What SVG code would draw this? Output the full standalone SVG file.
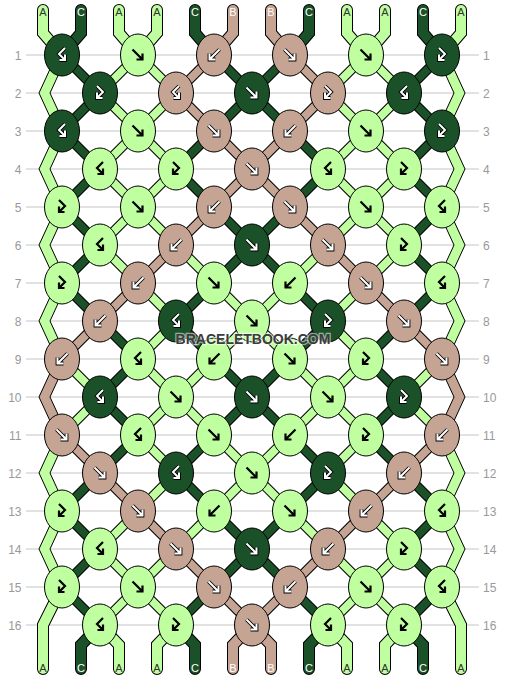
<svg xmlns="http://www.w3.org/2000/svg" xmlns:xlink="http://www.w3.org/1999/xlink" width="506" height="680" viewBox="0 0 506 680">
<style>
.grid{stroke:#c4c4c4;stroke-width:1}
.lbl{font-family:"Liberation Sans",Arial,sans-serif;font-size:12px;fill:#999}
.ll{text-anchor:end}
.ol{fill:none;stroke:#000;stroke-width:10}
.ost{fill:none;stroke:#000;stroke-width:12;stroke-linecap:round}
.fa{fill:none;stroke:#bfffa0;stroke-width:8}
.fb{fill:none;stroke:#c5a494;stroke-width:8}
.fc{fill:none;stroke:#1b5128;stroke-width:8}
.sa{fill:none;stroke:#bfffa0;stroke-width:10;stroke-linecap:round}
.sb{fill:none;stroke:#c5a494;stroke-width:10;stroke-linecap:round}
.sc{fill:none;stroke:#1b5128;stroke-width:10;stroke-linecap:round}
.ea{fill:#bfffa0;stroke:#000;stroke-width:1}
.eb{fill:#c5a494;stroke:#000;stroke-width:1}
ellipse{stroke:#000;stroke-width:1}
.ka{fill:#bfffa0}
.kb{fill:#c5a494}
.kc{fill:#1b5128}
.ab{fill:none;stroke:#000;stroke-width:2.2}
.ao{fill:none;stroke:#000;stroke-width:3.8}
.aw{fill:none;stroke:#fff;stroke-width:2}
.tl{font-family:"Liberation Sans",Arial,sans-serif;font-size:11px;text-anchor:middle}
.td{fill:#333}
.tw{fill:#fff}
.wm{font-family:"Liberation Sans",Arial,sans-serif;font-weight:bold;font-size:14px;text-anchor:middle;fill:#3c3c3c;stroke:#fff;stroke-width:2.4;stroke-opacity:.55;paint-order:stroke}
</style>
<defs>
<path id="pF" d="M-5.5 -5.5L4.5 4.5M4.5 -1.5V4.5H-1.5"/>
<path id="pB" d="M5.5 -5.5L-4.5 4.5M-4.5 -1.5V4.5H1.5"/>
<path id="pFB" d="M-3 -7L3 -1L-3 5M-3 -0.5V5H2.5"/>
<path id="pBF" d="M3 -7L-3 -1L3 5M3 -0.5V5H-2.5"/>
<g id="wF"><use href="#pF" class="ao"/><use href="#pF" class="aw"/></g>
<g id="wB"><use href="#pB" class="ao"/><use href="#pB" class="aw"/></g>
<g id="wFB"><use href="#pFB" class="ao"/><use href="#pFB" class="aw"/></g>
<g id="wBF"><use href="#pBF" class="ao"/><use href="#pBF" class="aw"/></g>
<path id="dC" d="M62 55L100 93M214 55L252 93M290 55L252 93M442 55L404 93M100 93L62 131M252 93L214 131M252 93L290 131M404 93L442 131M62 131L100 169M214 131L176 169M290 131L328 169M442 131L404 169M100 169L62 207M176 169L214 207M328 169L290 207M404 169L442 207M62 207L100 245M214 207L252 245M290 207L252 245M442 207L404 245M100 245L62 283M252 245L214 283M252 245L290 283M404 245L442 283M62 283L100 321M214 283L176 321M290 283L328 321M442 283L404 321M100 321L138 359M176 321L214 359M328 321L290 359M404 321L366 359M138 359L100 397M214 359L252 397M290 359L252 397M366 359L404 397M100 397L138 435M252 397L214 435M252 397L290 435M404 397L366 435M138 435L100 473M214 435L176 473M290 435L328 473M366 435L404 473M100 473L62 511M176 473L214 511M328 473L290 511M404 473L442 511M62 511L100 549M214 511L252 549M290 511L252 549M442 511L404 549M100 549L62 587M252 549L214 587M252 549L290 587M404 549L442 587M62 587L100 625M214 587L176 625M290 587L328 625M442 587L404 625"/>
<path id="dA" d="M138 55L100 93M138 55L176 93M366 55L328 93M366 55L404 93M100 93L138 131M176 93L138 131M328 93L366 131M404 93L366 131M138 131L100 169M138 131L176 169M366 131L328 169M366 131L404 169M100 169L138 207M176 169L138 207M328 169L366 207M404 169L366 207M138 207L100 245M138 207L176 245M366 207L328 245M366 207L404 245M100 245L138 283M176 245L214 283M328 245L290 283M404 245L366 283M138 283L176 321M214 283L252 321M290 283L252 321M366 283L328 321M176 321L138 359M252 321L214 359M252 321L290 359M328 321L366 359M62 359L100 397M138 359L176 397M214 359L176 397M290 359L328 397M366 359L328 397M442 359L404 397M100 397L62 435M176 397L138 435M176 397L214 435M328 397L290 435M328 397L366 435M404 397L442 435M138 435L176 473M214 435L252 473M290 435L252 473M366 435L328 473M176 473L138 511M252 473L214 511M252 473L290 511M328 473L366 511M138 511L100 549M214 511L176 549M290 511L328 549M366 511L404 549M100 549L138 587M176 549L138 587M328 549L366 587M404 549L366 587M138 587L100 625M138 587L176 625M366 587L328 625M366 587L404 625"/>
<path id="dB" d="M214 55L176 93M290 55L328 93M176 93L214 131M328 93L290 131M214 131L252 169M290 131L252 169M252 169L214 207M252 169L290 207M214 207L176 245M290 207L328 245M176 245L138 283M328 245L366 283M138 283L100 321M366 283L404 321M100 321L62 359M404 321L442 359M62 435L100 473M442 435L404 473M100 473L138 511M404 473L366 511M138 511L176 549M366 511L328 549M176 549L214 587M328 549L290 587M214 587L252 625M290 587L252 625"/>
<path id="tA" d="M43 10V33L62 55M119 10V33L138 55M157 10V33L138 55M347 10V33L366 55M385 10V33L366 55M461 10V33L442 55M62 587L43 625V669M100 625L119 645V669M176 625L157 645V669M328 625L347 645V669M404 625L385 645V669M442 587L461 625V669"/>
<path id="tC" d="M81 10V33L62 55M195 10V33L214 55M309 10V33L290 55M423 10V33L442 55M100 625L81 645V669M176 625L195 645V669M328 625L309 645V669M404 625L423 645V669"/>
<path id="tB" d="M233 10V33L214 55M271 10V33L290 55M252 625L233 645V669M252 625L271 645V669"/>
</defs>
<rect width="506" height="680" fill="#fff"/>
<g id="rows">
<g class="grid">
<path d="M26 55H479M26 93H479M26 131H479M26 169H479M26 207H479M26 245H479M26 283H479M26 321H479M26 359H479M26 397H479M26 435H479M26 473H479M26 511H479M26 549H479M26 587H479M26 625H479"/>
</g>
<g class="lbl ll">
<text x="21.5" y="59.5">1</text><text x="21.5" y="97.5">2</text><text x="21.5" y="135.5">3</text><text x="21.5" y="173.5">4</text><text x="21.5" y="211.5">5</text><text x="21.5" y="249.5">6</text><text x="21.5" y="287.5">7</text><text x="21.5" y="325.5">8</text><text x="21.5" y="363.5">9</text><text x="21.5" y="401.5">10</text><text x="21.5" y="439.5">11</text><text x="21.5" y="477.5">12</text><text x="21.5" y="515.5">13</text><text x="21.5" y="553.5">14</text><text x="21.5" y="591.5">15</text><text x="21.5" y="629.5">16</text>
</g>
<g class="lbl">
<text x="483" y="59.5">1</text><text x="483" y="97.5">2</text><text x="483" y="135.5">3</text><text x="483" y="173.5">4</text><text x="483" y="211.5">5</text><text x="483" y="249.5">6</text><text x="483" y="287.5">7</text><text x="483" y="325.5">8</text><text x="483" y="363.5">9</text><text x="483" y="401.5">10</text><text x="483" y="439.5">11</text><text x="483" y="477.5">12</text><text x="483" y="515.5">13</text><text x="483" y="553.5">14</text><text x="483" y="591.5">15</text><text x="483" y="629.5">16</text>
</g>
</g>
<g id="connectors">
<use href="#tA" class="ost"/><use href="#tB" class="ost"/><use href="#tC" class="ost"/>
<use href="#dA" class="ol"/><use href="#dB" class="ol"/><use href="#dC" class="ol"/>
<use href="#tA" class="sa"/><use href="#tB" class="sb"/><use href="#tC" class="sc"/>
<use href="#dA" class="fa"/><use href="#dB" class="fb"/><use href="#dC" class="fc"/>
<polygon class="ea" points="56.5,55 39,93 56.5,131 67.5,131 50,93 67.5,55"/>
<polygon class="ea" points="56.5,131 39,169 56.5,207 67.5,207 50,169 67.5,131"/>
<polygon class="ea" points="56.5,207 39,245 56.5,283 67.5,283 50,245 67.5,207"/>
<polygon class="ea" points="56.5,283 39,321 56.5,359 67.5,359 50,321 67.5,283"/>
<polygon class="eb" points="56.5,359 39,397 56.5,435 67.5,435 50,397 67.5,359"/>
<polygon class="ea" points="56.5,435 39,473 56.5,511 67.5,511 50,473 67.5,435"/>
<polygon class="ea" points="56.5,511 39,549 56.5,587 67.5,587 50,549 67.5,511"/>
<polygon class="ea" points="447.5,55 465,93 447.5,131 436.5,131 454,93 436.5,55"/>
<polygon class="ea" points="447.5,131 465,169 447.5,207 436.5,207 454,169 436.5,131"/>
<polygon class="ea" points="447.5,207 465,245 447.5,283 436.5,283 454,245 436.5,207"/>
<polygon class="ea" points="447.5,283 465,321 447.5,359 436.5,359 454,321 436.5,283"/>
<polygon class="eb" points="447.5,359 465,397 447.5,435 436.5,435 454,397 436.5,359"/>
<polygon class="ea" points="447.5,435 465,473 447.5,511 436.5,511 454,473 436.5,435"/>
<polygon class="ea" points="447.5,511 465,549 447.5,587 436.5,587 454,549 436.5,511"/>
</g>
<g id="strings-labels" class="tl">
<text class="td" x="43" y="16">A</text><text class="tw" x="81" y="16">C</text><text class="td" x="119" y="16">A</text><text class="td" x="157" y="16">A</text><text class="tw" x="195" y="16">C</text><text class="tw" x="233" y="16">B</text><text class="tw" x="271" y="16">B</text><text class="tw" x="309" y="16">C</text><text class="td" x="347" y="16">A</text><text class="td" x="385" y="16">A</text><text class="tw" x="423" y="16">C</text><text class="td" x="461" y="16">A</text>
<text class="td" x="43" y="672">A</text><text class="tw" x="81" y="672">C</text><text class="td" x="119" y="672">A</text><text class="td" x="157" y="672">A</text><text class="tw" x="195" y="672">C</text><text class="tw" x="233" y="672">B</text><text class="tw" x="271" y="672">B</text><text class="tw" x="309" y="672">C</text><text class="td" x="347" y="672">A</text><text class="td" x="385" y="672">A</text><text class="tw" x="423" y="672">C</text><text class="td" x="461" y="672">A</text>
</g>
<g id="knots">
<g id="k1-1"><ellipse class="kc" cx="62" cy="55" rx="17.5" ry="21"/><use href="#wBF" x="62" y="55"/></g>
<g id="k1-2"><ellipse class="ka" cx="138" cy="55" rx="17.5" ry="21"/><use href="#pF" class="ab" x="138" y="55"/></g>
<g id="k1-3"><ellipse class="kb" cx="214" cy="55" rx="17.5" ry="21"/><use href="#wB" x="214" y="55"/></g>
<g id="k1-4"><ellipse class="kb" cx="290" cy="55" rx="17.5" ry="21"/><use href="#wF" x="290" y="55"/></g>
<g id="k1-5"><ellipse class="ka" cx="366" cy="55" rx="17.5" ry="21"/><use href="#pF" class="ab" x="366" y="55"/></g>
<g id="k1-6"><ellipse class="kc" cx="442" cy="55" rx="17.5" ry="21"/><use href="#wFB" x="442" y="55"/></g>

<g id="k2-1"><ellipse class="kc" cx="100" cy="93" rx="17.5" ry="21"/><use href="#wFB" x="100" y="93"/></g>
<g id="k2-2"><ellipse class="kb" cx="176" cy="93" rx="17.5" ry="21"/><use href="#wBF" x="176" y="93"/></g>
<g id="k2-3"><ellipse class="kc" cx="252" cy="93" rx="17.5" ry="21"/><use href="#wF" x="252" y="93"/></g>
<g id="k2-4"><ellipse class="kb" cx="328" cy="93" rx="17.5" ry="21"/><use href="#wFB" x="328" y="93"/></g>
<g id="k2-5"><ellipse class="kc" cx="404" cy="93" rx="17.5" ry="21"/><use href="#wBF" x="404" y="93"/></g>

<g id="k3-1"><ellipse class="kc" cx="62" cy="131" rx="17.5" ry="21"/><use href="#wBF" x="62" y="131"/></g>
<g id="k3-2"><ellipse class="ka" cx="138" cy="131" rx="17.5" ry="21"/><use href="#pF" class="ab" x="138" y="131"/></g>
<g id="k3-3"><ellipse class="kb" cx="214" cy="131" rx="17.5" ry="21"/><use href="#wF" x="214" y="131"/></g>
<g id="k3-4"><ellipse class="kb" cx="290" cy="131" rx="17.5" ry="21"/><use href="#wB" x="290" y="131"/></g>
<g id="k3-5"><ellipse class="ka" cx="366" cy="131" rx="17.5" ry="21"/><use href="#pF" class="ab" x="366" y="131"/></g>
<g id="k3-6"><ellipse class="kc" cx="442" cy="131" rx="17.5" ry="21"/><use href="#wFB" x="442" y="131"/></g>

<g id="k4-1"><ellipse class="ka" cx="100" cy="169" rx="17.5" ry="21"/><use href="#pBF" class="ab" x="100" y="169"/></g>
<g id="k4-2"><ellipse class="ka" cx="176" cy="169" rx="17.5" ry="21"/><use href="#pFB" class="ab" x="176" y="169"/></g>
<g id="k4-3"><ellipse class="kb" cx="252" cy="169" rx="17.5" ry="21"/><use href="#wF" x="252" y="169"/></g>
<g id="k4-4"><ellipse class="ka" cx="328" cy="169" rx="17.5" ry="21"/><use href="#pBF" class="ab" x="328" y="169"/></g>
<g id="k4-5"><ellipse class="ka" cx="404" cy="169" rx="17.5" ry="21"/><use href="#pFB" class="ab" x="404" y="169"/></g>

<g id="k5-1"><ellipse class="ka" cx="62" cy="207" rx="17.5" ry="21"/><use href="#pFB" class="ab" x="62" y="207"/></g>
<g id="k5-2"><ellipse class="ka" cx="138" cy="207" rx="17.5" ry="21"/><use href="#pF" class="ab" x="138" y="207"/></g>
<g id="k5-3"><ellipse class="kb" cx="214" cy="207" rx="17.5" ry="21"/><use href="#wB" x="214" y="207"/></g>
<g id="k5-4"><ellipse class="kb" cx="290" cy="207" rx="17.5" ry="21"/><use href="#wF" x="290" y="207"/></g>
<g id="k5-5"><ellipse class="ka" cx="366" cy="207" rx="17.5" ry="21"/><use href="#pF" class="ab" x="366" y="207"/></g>
<g id="k5-6"><ellipse class="ka" cx="442" cy="207" rx="17.5" ry="21"/><use href="#pBF" class="ab" x="442" y="207"/></g>

<g id="k6-1"><ellipse class="ka" cx="100" cy="245" rx="17.5" ry="21"/><use href="#pBF" class="ab" x="100" y="245"/></g>
<g id="k6-2"><ellipse class="kb" cx="176" cy="245" rx="17.5" ry="21"/><use href="#wB" x="176" y="245"/></g>
<g id="k6-3"><ellipse class="kc" cx="252" cy="245" rx="17.5" ry="21"/><use href="#wF" x="252" y="245"/></g>
<g id="k6-4"><ellipse class="kb" cx="328" cy="245" rx="17.5" ry="21"/><use href="#wF" x="328" y="245"/></g>
<g id="k6-5"><ellipse class="ka" cx="404" cy="245" rx="17.5" ry="21"/><use href="#pFB" class="ab" x="404" y="245"/></g>

<g id="k7-1"><ellipse class="ka" cx="62" cy="283" rx="17.5" ry="21"/><use href="#pFB" class="ab" x="62" y="283"/></g>
<g id="k7-2"><ellipse class="kb" cx="138" cy="283" rx="17.5" ry="21"/><use href="#wB" x="138" y="283"/></g>
<g id="k7-3"><ellipse class="ka" cx="214" cy="283" rx="17.5" ry="21"/><use href="#pF" class="ab" x="214" y="283"/></g>
<g id="k7-4"><ellipse class="ka" cx="290" cy="283" rx="17.5" ry="21"/><use href="#pB" class="ab" x="290" y="283"/></g>
<g id="k7-5"><ellipse class="kb" cx="366" cy="283" rx="17.5" ry="21"/><use href="#wF" x="366" y="283"/></g>
<g id="k7-6"><ellipse class="ka" cx="442" cy="283" rx="17.5" ry="21"/><use href="#pBF" class="ab" x="442" y="283"/></g>

<g id="k8-1"><ellipse class="kb" cx="100" cy="321" rx="17.5" ry="21"/><use href="#wB" x="100" y="321"/></g>
<g id="k8-2"><ellipse class="kc" cx="176" cy="321" rx="17.5" ry="21"/><use href="#wBF" x="176" y="321"/></g>
<g id="k8-3"><ellipse class="ka" cx="252" cy="321" rx="17.5" ry="21"/><use href="#pF" class="ab" x="252" y="321"/></g>
<g id="k8-4"><ellipse class="kc" cx="328" cy="321" rx="17.5" ry="21"/><use href="#wFB" x="328" y="321"/></g>
<g id="k8-5"><ellipse class="kb" cx="404" cy="321" rx="17.5" ry="21"/><use href="#wF" x="404" y="321"/></g>

<g id="k9-1"><ellipse class="kb" cx="62" cy="359" rx="17.5" ry="21"/><use href="#wB" x="62" y="359"/></g>
<g id="k9-2"><ellipse class="ka" cx="138" cy="359" rx="17.5" ry="21"/><use href="#pBF" class="ab" x="138" y="359"/></g>
<g id="k9-3"><ellipse class="ka" cx="214" cy="359" rx="17.5" ry="21"/><use href="#pB" class="ab" x="214" y="359"/></g>
<g id="k9-4"><ellipse class="ka" cx="290" cy="359" rx="17.5" ry="21"/><use href="#pF" class="ab" x="290" y="359"/></g>
<g id="k9-5"><ellipse class="ka" cx="366" cy="359" rx="17.5" ry="21"/><use href="#pFB" class="ab" x="366" y="359"/></g>
<g id="k9-6"><ellipse class="kb" cx="442" cy="359" rx="17.5" ry="21"/><use href="#wF" x="442" y="359"/></g>

<g id="k10-1"><ellipse class="kc" cx="100" cy="397" rx="17.5" ry="21"/><use href="#wBF" x="100" y="397"/></g>
<g id="k10-2"><ellipse class="ka" cx="176" cy="397" rx="17.5" ry="21"/><use href="#pF" class="ab" x="176" y="397"/></g>
<g id="k10-3"><ellipse class="kc" cx="252" cy="397" rx="17.5" ry="21"/><use href="#wF" x="252" y="397"/></g>
<g id="k10-4"><ellipse class="ka" cx="328" cy="397" rx="17.5" ry="21"/><use href="#pF" class="ab" x="328" y="397"/></g>
<g id="k10-5"><ellipse class="kc" cx="404" cy="397" rx="17.5" ry="21"/><use href="#wFB" x="404" y="397"/></g>

<g id="k11-1"><ellipse class="kb" cx="62" cy="435" rx="17.5" ry="21"/><use href="#wF" x="62" y="435"/></g>
<g id="k11-2"><ellipse class="ka" cx="138" cy="435" rx="17.5" ry="21"/><use href="#pBF" class="ab" x="138" y="435"/></g>
<g id="k11-3"><ellipse class="ka" cx="214" cy="435" rx="17.5" ry="21"/><use href="#pF" class="ab" x="214" y="435"/></g>
<g id="k11-4"><ellipse class="ka" cx="290" cy="435" rx="17.5" ry="21"/><use href="#pB" class="ab" x="290" y="435"/></g>
<g id="k11-5"><ellipse class="ka" cx="366" cy="435" rx="17.5" ry="21"/><use href="#pFB" class="ab" x="366" y="435"/></g>
<g id="k11-6"><ellipse class="kb" cx="442" cy="435" rx="17.5" ry="21"/><use href="#wB" x="442" y="435"/></g>

<g id="k12-1"><ellipse class="kb" cx="100" cy="473" rx="17.5" ry="21"/><use href="#wF" x="100" y="473"/></g>
<g id="k12-2"><ellipse class="kc" cx="176" cy="473" rx="17.5" ry="21"/><use href="#wBF" x="176" y="473"/></g>
<g id="k12-3"><ellipse class="ka" cx="252" cy="473" rx="17.5" ry="21"/><use href="#pF" class="ab" x="252" y="473"/></g>
<g id="k12-4"><ellipse class="kc" cx="328" cy="473" rx="17.5" ry="21"/><use href="#wFB" x="328" y="473"/></g>
<g id="k12-5"><ellipse class="kb" cx="404" cy="473" rx="17.5" ry="21"/><use href="#wB" x="404" y="473"/></g>

<g id="k13-1"><ellipse class="ka" cx="62" cy="511" rx="17.5" ry="21"/><use href="#pFB" class="ab" x="62" y="511"/></g>
<g id="k13-2"><ellipse class="kb" cx="138" cy="511" rx="17.5" ry="21"/><use href="#wF" x="138" y="511"/></g>
<g id="k13-3"><ellipse class="ka" cx="214" cy="511" rx="17.5" ry="21"/><use href="#pB" class="ab" x="214" y="511"/></g>
<g id="k13-4"><ellipse class="ka" cx="290" cy="511" rx="17.5" ry="21"/><use href="#pF" class="ab" x="290" y="511"/></g>
<g id="k13-5"><ellipse class="kb" cx="366" cy="511" rx="17.5" ry="21"/><use href="#wB" x="366" y="511"/></g>
<g id="k13-6"><ellipse class="ka" cx="442" cy="511" rx="17.5" ry="21"/><use href="#pBF" class="ab" x="442" y="511"/></g>

<g id="k14-1"><ellipse class="ka" cx="100" cy="549" rx="17.5" ry="21"/><use href="#pBF" class="ab" x="100" y="549"/></g>
<g id="k14-2"><ellipse class="kb" cx="176" cy="549" rx="17.5" ry="21"/><use href="#wF" x="176" y="549"/></g>
<g id="k14-3"><ellipse class="kc" cx="252" cy="549" rx="17.5" ry="21"/><use href="#wF" x="252" y="549"/></g>
<g id="k14-4"><ellipse class="kb" cx="328" cy="549" rx="17.5" ry="21"/><use href="#wB" x="328" y="549"/></g>
<g id="k14-5"><ellipse class="ka" cx="404" cy="549" rx="17.5" ry="21"/><use href="#pFB" class="ab" x="404" y="549"/></g>

<g id="k15-1"><ellipse class="ka" cx="62" cy="587" rx="17.5" ry="21"/><use href="#pFB" class="ab" x="62" y="587"/></g>
<g id="k15-2"><ellipse class="ka" cx="138" cy="587" rx="17.5" ry="21"/><use href="#pF" class="ab" x="138" y="587"/></g>
<g id="k15-3"><ellipse class="kb" cx="214" cy="587" rx="17.5" ry="21"/><use href="#wF" x="214" y="587"/></g>
<g id="k15-4"><ellipse class="kb" cx="290" cy="587" rx="17.5" ry="21"/><use href="#wB" x="290" y="587"/></g>
<g id="k15-5"><ellipse class="ka" cx="366" cy="587" rx="17.5" ry="21"/><use href="#pF" class="ab" x="366" y="587"/></g>
<g id="k15-6"><ellipse class="ka" cx="442" cy="587" rx="17.5" ry="21"/><use href="#pBF" class="ab" x="442" y="587"/></g>

<g id="k16-1"><ellipse class="ka" cx="100" cy="625" rx="17.5" ry="21"/><use href="#pBF" class="ab" x="100" y="625"/></g>
<g id="k16-2"><ellipse class="ka" cx="176" cy="625" rx="17.5" ry="21"/><use href="#pFB" class="ab" x="176" y="625"/></g>
<g id="k16-3"><ellipse class="kb" cx="252" cy="625" rx="17.5" ry="21"/><use href="#wF" x="252" y="625"/></g>
<g id="k16-4"><ellipse class="ka" cx="328" cy="625" rx="17.5" ry="21"/><use href="#pBF" class="ab" x="328" y="625"/></g>
<g id="k16-5"><ellipse class="ka" cx="404" cy="625" rx="17.5" ry="21"/><use href="#pFB" class="ab" x="404" y="625"/></g>
</g>
<text id="watermark" class="wm" x="253" y="344">BRACELETBOOK.COM</text>
</svg>
